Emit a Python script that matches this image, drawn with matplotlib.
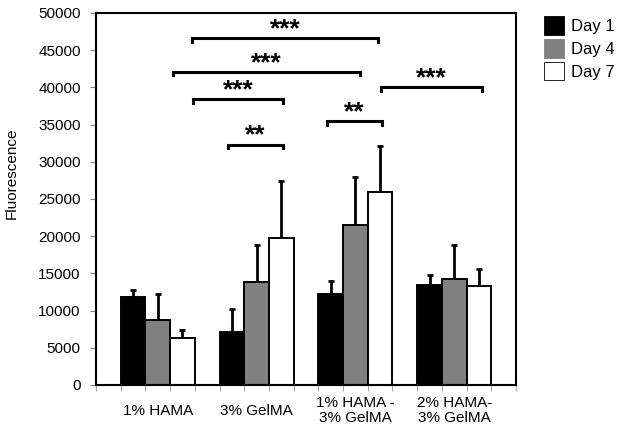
import numpy as np
import matplotlib
matplotlib.use("Agg")
import matplotlib.pyplot as plt
from matplotlib.patches import Patch

plt.rcParams['font.family'] = ['Liberation Sans', 'DejaVu Sans']

groups = ["1% HAMA", "3% GelMA", "1% HAMA -\n3% GelMA", "2% HAMA-\n3% GelMA"]
days = ["Day 1", "Day 4", "Day 7"]

# mean fluorescence per group, one list per day
day1 = [11800, 7100, 12200, 13400]
day4 = [8700, 13900, 21500, 14300]
day7 = [6300, 19700, 25900, 13300]
# upper end of the error bar
day1_top = [12800, 10200, 14000, 14800]
day4_top = [12200, 18800, 27900, 18800]
day7_top = [7400, 27400, 32100, 15600]

# significance brackets: x start, x end (bar slots), height, label
sig_x0 = [3.39, 2.63, 3.44, 4.83, 8.84, 11.04]
sig_x1 = [10.9, 10.19, 7.06, 7.06, 11.07, 15.14]
sig_y = [46600, 42100, 38400, 32300, 35500, 40000]
sig_txt = ["***", "***", "***", "**", "**", "***"]

colors = ["black", "#808080", "white"]


def main():
    fig = plt.figure(figsize=(6.21, 4.32), dpi=100)
    ax = fig.add_axes([0.1546, 0.1088, 0.6763, 0.8612])

    means = [day1, day4, day7]
    tops = [day1_top, day4_top, day7_top]
    for d in range(3):
        xs = np.arange(len(groups)) * 4 + 1 + d
        vals = np.array(means[d])
        err = np.array(tops[d]) - vals
        ax.bar(xs, vals, width=1.0, color=colors[d], edgecolor="black",
               linewidth=1.4, zorder=2)
        ax.errorbar(xs, vals, yerr=[np.zeros_like(err), err], fmt="none",
                    ecolor="black", elinewidth=2, capsize=2.5, capthick=2,
                    zorder=1)

    tick = 500
    for x0, x1, y, t in zip(sig_x0, sig_x1, sig_y, sig_txt):
        ax.plot([x0, x0, x1, x1], [y - tick, y, y, y - tick], color="black",
                lw=2.2, solid_joinstyle="miter", zorder=3)
        ax.text((x0 + x1) / 2, y + 250, t, ha="center", va="baseline",
                fontsize=19, fontweight="bold")

    ax.set_xlim(-0.5, 16.5)
    ax.set_ylim(0, 50000)
    ax.set_yticks(np.arange(0, 50001, 5000))
    ax.tick_params(axis="y", labelsize=11, length=4, width=0.8,
                   color="#888888", pad=7)
    ax.set_xticks(np.arange(-0.5, 17, 1.0))
    ax.set_xticklabels([])
    ax.tick_params(axis="x", which="major", length=4, width=0.8,
                   color="#aaaaaa")
    for i, g in enumerate(groups):
        ax.text(i * 4 + 2, -0.069, g, transform=ax.get_xaxis_transform(),
                ha="center", va="center", fontsize=11, linespacing=1.1)
    for s in ax.spines.values():
        s.set_linewidth(1.5)
    ax.set_ylabel("Fluorescence", fontsize=11)
    ax.yaxis.set_label_coords(-0.183, 0.57)

    handles = [Patch(facecolor=c, edgecolor="black" if c != "#808080" else "#808080",
                     linewidth=0.6) for c in colors]
    fig.legend(handles, days, loc="upper left", bbox_to_anchor=(0.857, 0.99),
               frameon=False, fontsize=12, handlelength=1.2, handleheight=1.35,
               handletextpad=0.45, labelspacing=0.25, borderpad=0.2)

    fig.savefig("out.png", dpi=100)


if __name__ == "__main__":
    main()
